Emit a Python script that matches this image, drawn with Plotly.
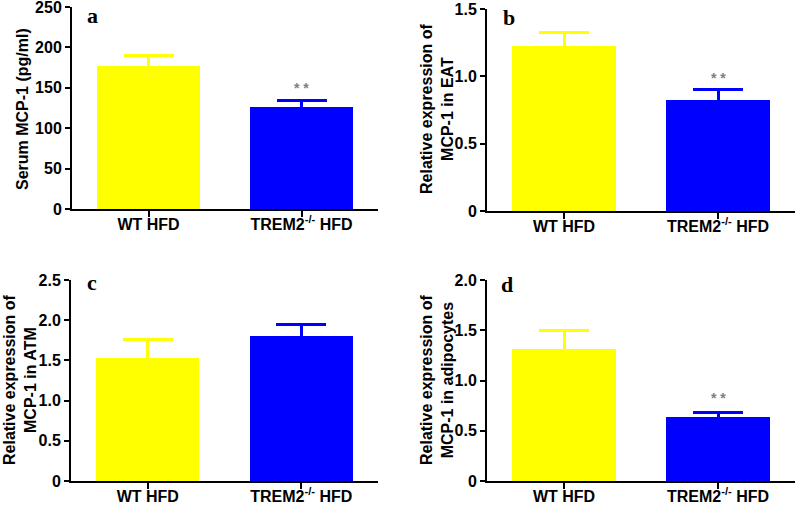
import plotly.graph_objects as go

categories = ["<b>WT HFD</b>", "<b>TREM2<sup>-/-</sup> HFD</b>"]
colors = ["#FFFF00", "#0000FF"]

serum_mcp1 = [177, 126.6]
serum_err = [13.6, 7.1]
eat_mcp1 = [1.225, 0.824]
eat_err = [0.099, 0.075]
atm_mcp1 = [1.525, 1.806]
atm_err = [0.24, 0.142]
adip_mcp1 = [1.313, 0.64]
adip_err = [0.189, 0.044]

panel_letters = ["a", "b", "c", "d"]
y_titles = ["Serum MCP-1 (pg/ml)", "Relative expression of<br>MCP-1 in EAT",
            "Relative expression of<br>MCP-1 in ATM", "Relative expression of<br>MCP-1 in adipocytes"]
y_ticks = [[0, 50, 100, 150, 200, 250], [0, 0.5, 1.0, 1.5],
           [0, 0.5, 1.0, 1.5, 2.0, 2.5], [0, 0.5, 1.0, 1.5, 2.0]]
y_ticktext = [["0", "50", "100", "150", "200", "250"], ["0", "0.5", "1.0", "1.5"],
              ["0", "0.5", "1.0", "1.5", "2.0", "2.5"], ["0", "0.5", "1.0", "1.5", "2.0"]]
star_y = [150, 0.988, None, 0.826]

values = [serum_mcp1, eat_mcp1, atm_mcp1, adip_mcp1]
errors = [serum_err, eat_err, atm_err, adip_err]

W, H = 797, 506
# pixel boxes (left, right, top, bottom)
boxes = [(72, 378, 7, 209), (487, 795, 9, 211), (71, 378, 280, 481), (487, 795, 280, 481)]
letter_pos = [(92, 15), (509, 17), (92, 282), (507, 284)]
title_pos = [(23, 109), (437, 109), (20, 380), (437, 380)]

fig = go.Figure()
font_fam = "Arial, Liberation Sans, sans-serif"

for i in range(4):
    ax = "" if i == 0 else str(i + 1)
    l, r, t, b = boxes[i]
    for j in range(2):
        fig.add_trace(go.Bar(
            x=[j], y=[values[i][j]], width=0.67,
            marker=dict(color=colors[j], line=dict(width=0)),
            error_y=dict(type="data", symmetric=True, array=[errors[i][j]],
                         color=colors[j], thickness=3, width=25),
            xaxis="x" + ax, yaxis="y" + ax, showlegend=False, hoverinfo="skip"))
    fig.layout["xaxis" + ax] = dict(
        domain=[l / W, r / W], range=[-0.5, 1.5], anchor="y" + ax, automargin=False,
        tickvals=[0, 1], ticktext=categories, ticks="outside", ticklen=6, tickwidth=2,
        tickcolor="black", showline=True, linecolor="black", linewidth=2,
        showgrid=False, zeroline=False, ticklabelstandoff=-6, ticklabeloverflow="allow",
        tickfont=dict(family=font_fam, size=16, color="black"))
    fig.layout["yaxis" + ax] = dict(
        domain=[(H - b) / H, (H - t) / H], range=[0, y_ticks[i][-1]], anchor="x" + ax,
        automargin=False, ticklabeloverflow="allow",
        tickvals=y_ticks[i], ticktext=["<b>%s</b>" % s for s in y_ticktext[i]],
        ticks="outside", ticklen=5, tickwidth=2,
        tickcolor="black", showline=True, linecolor="black", linewidth=2,
        showgrid=False, zeroline=False,
        tickfont=dict(family=font_fam, size=16, color="black"))
    # panel letter
    lx, ly = letter_pos[i]
    fig.add_annotation(x=lx / W, y=(H - ly) / H, xref="paper", yref="paper",
                       text="<b>%s</b>" % panel_letters[i], showarrow=False,
                       xanchor="center", yanchor="middle",
                       font=dict(family="Liberation Serif, Times New Roman, serif", size=22, color="black"))
    # significance stars
    if star_y[i] is not None:
        fig.add_annotation(x=1, y=star_y[i], xref="x" + ax, yref="y" + ax, text="<b>* *</b>",
                           showarrow=False, yanchor="middle",
                           font=dict(family=font_fam, size=14, color="#808080"))

for i in range(4):
    x, y = title_pos[i]
    fig.add_annotation(x=x / W, y=(H - y) / H, xref="paper", yref="paper",
                       text="<b>%s</b>" % y_titles[i], showarrow=False, textangle=-90,
                       xanchor="center", yanchor="middle",
                       font=dict(family=font_fam, size=16, color="black"))

fig.update_layout(width=W, height=H, margin=dict(l=0, r=0, t=0, b=0),
                  paper_bgcolor="white", plot_bgcolor="white", bargap=0)
fig.write_html("out.html", config={"displayModeBar": False},
               post_script="document.body.style.margin='0';document.body.style.padding='0';")
